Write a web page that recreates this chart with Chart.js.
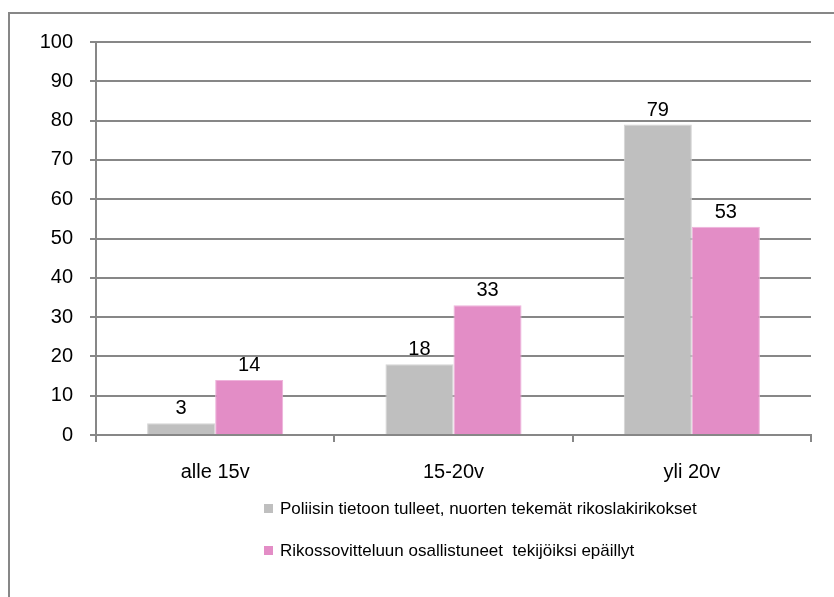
<!DOCTYPE html>
<html>
<head>
<meta charset="utf-8">
<script src="https://cdn.jsdelivr.net/npm/chart.js@4"></script>
<style>
  body { margin: 0; background: #fff; }
  #wrap { position: relative; width: 834px; height: 597px; overflow: hidden; }
  #frame { position: absolute; left: 8px; top: 12px; width: 900px; height: 700px; border: 2px solid #878787; box-sizing: border-box; }
  #chart { position: absolute; left: 0; top: 0; }
  #legend { position: absolute; left: 264px; top: 495px; font-family: "Liberation Sans", Arial, sans-serif; font-size: 17px; color: #000; }
  #legend div { height: 42px; line-height: 28px; white-space: pre; }
  #legend span { display: inline-block; width: 9px; height: 9px; margin-right: 7px; vertical-align: 1px; }
</style>
</head>
<body>
<div id="wrap">
  <div id="frame"></div>
  <canvas id="chart" width="834" height="597"></canvas>
  <div id="legend"></div>
</div>
<script>
document.addEventListener('DOMContentLoaded', function() {

    // Data
    const categories = ['alle 15v', '15-20v', 'yli 20v'];
    const poliisi = [3, 18, 79];
    const sovittelu = [14, 33, 53];
    const seriesNames = [
        'Poliisin tietoon tulleet, nuorten tekemät rikoslakirikokset',
        'Rikossovitteluun osallistuneet  tekijöiksi epäillyt'
    ];
    const yTicks = [0, 10, 20, 30, 40, 50, 60, 70, 80, 90, 100];

    const colors = ['#bfbfbf', '#e38dc6'];
    const font = { family: '"Liberation Sans", Arial, sans-serif', size: 20 };
    const gridColor = '#878787';

    // Arvot pylväiden päälle
    const valueLabels = {
        id: 'valueLabels',
        afterDatasetsDraw(chart) {
            const ctx = chart.ctx;
            ctx.save();
            ctx.font = font.size + 'px ' + font.family;
            ctx.fillStyle = '#000';
            ctx.textAlign = 'center';
            ctx.textBaseline = 'alphabetic';
            chart.data.datasets.forEach((ds, i) => {
                chart.getDatasetMeta(i).data.forEach((bar, j) => {
                    ctx.fillText(String(ds.data[j]), bar.x, bar.y - 9);
                });
            });
            ctx.restore();
        }
    };

    const ctx = document.getElementById('chart').getContext('2d');
    new Chart(ctx, {
        type: 'bar',
        data: {
            labels: categories,
            datasets: [
                { label: seriesNames[0], data: poliisi, backgroundColor: colors[0], borderColor: '#d4d4d4', borderWidth: 1 },
                { label: seriesNames[1], data: sovittelu, backgroundColor: colors[1], borderColor: '#eeb3db', borderWidth: 1 }
            ]
        },
        options: {
            responsive: false,
            animation: false,
            layout: { padding: { top: 42, right: 23, bottom: 112, left: 0 } },
            datasets: { bar: { categoryPercentage: 0.571, barPercentage: 1 } },
            plugins: { legend: { display: false }, tooltip: { enabled: false } },
            scales: {
                x: {
                    grid: { offset: true, drawOnChartArea: false, color: gridColor, lineWidth: 2, tickLength: 7 },
                    border: { color: gridColor, width: 2 },
                    ticks: { color: '#000', font: font, padding: 18 },
                    afterFit: (s) => { s.height = 50; }
                },
                y: {
                    min: 0, max: 100,
                    afterBuildTicks: (s) => { s.ticks = yTicks.map(v => ({ value: v })); },
                    grid: { color: gridColor, lineWidth: 2, tickLength: 6 },
                    border: { color: gridColor, width: 2 },
                    ticks: { color: '#000', font: font, padding: 17 },
                    afterFit: (s) => { s.width = 96; }
                }
            }
        },
        plugins: [valueLabels]
    });

    // Selite
    const legend = document.getElementById('legend');
    seriesNames.forEach((name, i) => {
        const row = document.createElement('div');
        const box = document.createElement('span');
        box.style.background = colors[i];
        row.appendChild(box);
        row.appendChild(document.createTextNode(name));
        legend.appendChild(row);
    });
});
</script>
</body>
</html>
